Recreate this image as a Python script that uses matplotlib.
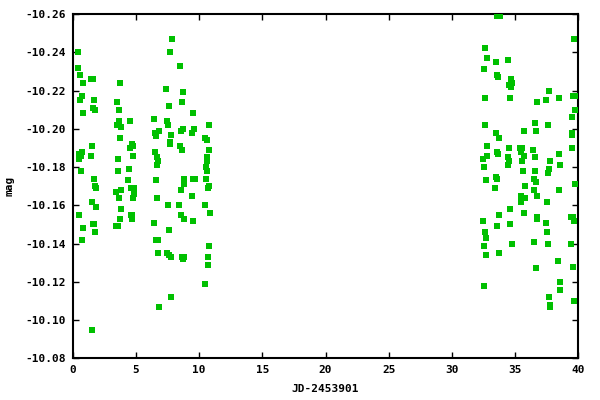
import matplotlib
matplotlib.use("Agg")
import matplotlib.pyplot as plt
from matplotlib.ticker import FixedLocator, FormatStrFormatter

x = [0.46, 0.46, 0.62, 0.86, 1.49, 1.65, 0.78, 0.62, 1.73, 1.65, 1.80, 0.86, 0.78, 0.50, 0.70, 0.54,
     1.57, 1.49, 0.70, 1.72, 1.80, 1.88, 1.57, 0.54, 1.88, 1.65, 1.72, 0.86, 1.80, 0.78, 1.57,
     3.78, 3.54, 3.70, 3.70, 3.54, 3.86, 4.57, 3.78, 4.73, 4.57, 4.81, 4.81, 3.62, 4.49, 3.62,
     4.41, 3.86, 3.46, 4.65, 4.89, 4.81, 4.89, 3.70, 3.86, 3.78, 4.65, 4.73, 4.73, 3.46, 3.62,
     7.89, 7.73, 8.52, 7.42, 8.76, 8.68, 7.65, 6.47, 7.49, 7.57, 9.55, 8.76, 8.60, 9.63, 9.47,
     6.86, 6.55, 6.62, 7.81, 7.73, 7.73, 8.52, 8.68, 6.55, 6.70, 6.78, 6.70, 6.62, 8.84, 8.84,
     9.55, 9.71, 8.60, 6.70, 7.57, 8.44, 9.47, 8.60, 8.84, 6.47, 9.55, 7.65, 6.62, 6.78, 6.78,
     7.49, 7.65, 7.81, 8.68, 8.76, 8.84, 7.81, 6.86,
     10.81, 10.50, 10.66, 10.81, 10.66, 10.66, 10.58, 10.66, 10.58, 10.81, 10.74, 10.50, 10.89,
     10.81, 10.74, 10.74, 10.50,
     33.54, 33.78, 39.67, 32.63, 32.79, 33.50, 34.45, 32.55, 33.58, 33.66, 34.69, 34.77, 34.53,
     34.69, 32.63, 34.61, 37.69, 37.45, 36.74, 38.48, 39.59, 39.75, 39.75, 39.51, 36.59, 37.61,
     32.63, 35.72, 36.66, 33.50, 33.74, 39.51, 39.51, 32.79, 39.51, 34.53, 35.40, 35.56, 35.48,
     36.43, 33.58, 33.66, 32.79, 38.48, 35.72, 35.56, 32.47, 34.45, 34.53, 36.59, 37.77, 34.45,
     32.55, 38.56, 35.64, 37.69, 37.61, 36.59, 33.50, 33.58, 32.71, 36.51, 36.66, 39.75, 33.42,
     35.80, 36.51, 38.48, 35.48, 35.64, 35.80, 35.48, 36.74, 37.53, 34.61, 33.74, 35.72, 32.47,
     36.74, 36.74, 37.45, 34.61, 39.43, 39.59, 39.67, 33.58, 32.63, 37.53, 32.71, 32.55, 34.77,
     36.51, 37.61, 39.43, 32.71, 33.74, 38.40, 39.59, 36.66, 38.56, 32.55, 38.56, 37.69, 39.67,
     37.77, 37.77]

mag = [-10.240, -10.232, -10.228, -10.224, -10.226, -10.226, -10.217, -10.215, -10.215, -10.211,
       -10.210, -10.208, -10.188, -10.187, -10.186, -10.184, -10.191, -10.186, -10.178, -10.174,
       -10.170, -10.169, -10.162, -10.155, -10.159, -10.150, -10.150, -10.148, -10.146, -10.142,
       -10.095,
       -10.224, -10.214, -10.210, -10.204, -10.202, -10.201, -10.204, -10.195, -10.192, -10.190,
       -10.191, -10.186, -10.184, -10.179, -10.178, -10.173, -10.168, -10.167, -10.169, -10.169,
       -10.164, -10.166, -10.164, -10.158, -10.153, -10.155, -10.155, -10.153, -10.149, -10.149,
       -10.247, -10.240, -10.233, -10.221, -10.219, -10.214, -10.212, -10.205, -10.204, -10.202,
       -10.208, -10.200, -10.199, -10.200, -10.198, -10.199, -10.198, -10.196, -10.197, -10.193,
       -10.192, -10.191, -10.189, -10.188, -10.185, -10.183, -10.181, -10.173, -10.174, -10.171,
       -10.174, -10.174, -10.168, -10.164, -10.160, -10.160, -10.165, -10.155, -10.153, -10.151,
       -10.152, -10.147, -10.142, -10.142, -10.135, -10.135, -10.134, -10.133, -10.133, -10.132,
       -10.133, -10.112, -10.107,
       -10.202, -10.195, -10.194, -10.189, -10.185, -10.183, -10.180, -10.178, -10.174, -10.170,
       -10.169, -10.160, -10.156, -10.139, -10.133, -10.129, -10.119,
       -10.259, -10.259, -10.247, -10.242, -10.237, -10.235, -10.236, -10.231, -10.228, -10.227,
       -10.226, -10.224, -10.223, -10.222, -10.216, -10.216, -10.220, -10.215, -10.214, -10.216,
       -10.217, -10.217, -10.210, -10.206, -10.203, -10.202, -10.202, -10.199, -10.199, -10.198,
       -10.195, -10.198, -10.197, -10.191, -10.190, -10.190, -10.190, -10.190, -10.188, -10.189,
       -10.188, -10.187, -10.186, -10.187, -10.186, -10.183, -10.184, -10.185, -10.183, -10.185,
       -10.183, -10.181, -10.180, -10.181, -10.178, -10.179, -10.177, -10.178, -10.175, -10.174,
       -10.173, -10.174, -10.172, -10.171, -10.169, -10.170, -10.168, -10.168, -10.165, -10.164,
       -10.164, -10.162, -10.165, -10.162, -10.158, -10.155, -10.156, -10.152, -10.154, -10.153,
       -10.151, -10.150, -10.154, -10.154, -10.152, -10.149, -10.146, -10.146, -10.143, -10.139,
       -10.140, -10.141, -10.140, -10.140, -10.134, -10.135, -10.131, -10.128, -10.127, -10.120,
       -10.118, -10.116, -10.112, -10.110, -10.108, -10.107]

x_ticks = [0, 5, 10, 15, 20, 25, 30, 35, 40]
y_ticks = [-10.26, -10.24, -10.22, -10.20, -10.18, -10.16, -10.14, -10.12, -10.10, -10.08]

font = {"family": "DejaVu Sans Mono", "weight": "bold", "size": 8}

fig = plt.figure(figsize=(6, 4), dpi=100)
ax = fig.add_axes([0.121, 0.104, 0.843, 0.861])
ax.scatter(x, mag, marker="s", s=14, color="#00c000", linewidths=0, zorder=3)

ax.set_xlim(0, 40)
ax.set_ylim(-10.08, -10.26)
ax.xaxis.set_major_locator(FixedLocator(x_ticks))
ax.yaxis.set_major_locator(FixedLocator(y_ticks))
ax.yaxis.set_major_formatter(FormatStrFormatter("%.2f"))
ax.tick_params(direction="in", length=4, width=1, top=True, right=True, pad=5)
for lab in ax.get_xticklabels() + ax.get_yticklabels():
    lab.set_fontfamily("DejaVu Sans Mono")
    lab.set_fontweight("bold")
    lab.set_fontsize(8)
for sp in ax.spines.values():
    sp.set_linewidth(1.5)

ax.set_xlabel("JD-2453901", fontdict=font, labelpad=6)
ax.set_ylabel("mag", fontdict=font, labelpad=8)

fig.savefig("out.png", dpi=100)
